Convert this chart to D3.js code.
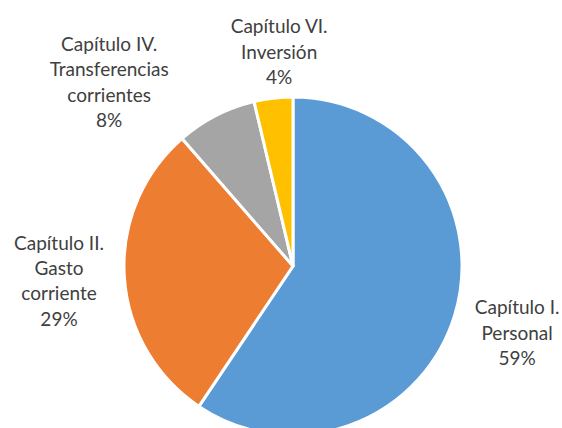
<!DOCTYPE html>
<html><head><meta charset="utf-8">
<script src="https://cdn.jsdelivr.net/npm/d3@7"></script>
<style>html,body{margin:0;padding:0;background:#fff;overflow:hidden}</style>
</head><body>
<svg id="c" width="562" height="428"></svg>
<script>
const categories = ["Capítulo I. Personal", "Capítulo II. Gasto corriente", "Capítulo IV. Transferencias corrientes", "Capítulo VI. Inversión"];
const labelLines = [["Capítulo I.", "Personal"], ["Capítulo II.", "Gasto", "corriente"], ["Capítulo IV.", "Transferencias", "corrientes"], ["Capítulo VI.", "Inversión"]];
const values = [59.4, 29.2, 7.7, 3.7];
const percentLabels = ["59%", "29%", "8%", "4%"];
const colors = ["#5B9BD5", "#ED7D31", "#A5A5A5", "#FFC000"];
// label placement (polar: distance from centre, angle in degrees clockwise from top)
const labelPolar = [[234, 106.7], [234.5, 266.3], [260, 315], [214.5, 356.3]];

const svg = d3.select("#c");
const cx = 293, cy = 266, R = 169;
const g = svg.append("g").attr("transform", `translate(${cx},${cy})`);
const pie = d3.pie().sort(null).value(d => d)(values);
const arc = d3.arc().innerRadius(0).outerRadius(R);
g.selectAll("path").data(pie).join("path")
  .attr("d", arc).attr("fill", (d, i) => colors[i])
  .attr("stroke", "#fff").attr("stroke-width", 3).attr("stroke-linejoin", "miter");

const lh = 25.4;
labelLines.forEach((lines, i) => {
  const all = lines.concat([percentLabels[i]]);
  const [r, a] = labelPolar[i];
  const rad = a * Math.PI / 180;
  const x = r * Math.sin(rad), y = -r * Math.cos(rad);
  const t = g.append("text").attr("text-anchor", "middle")
    .attr("font-family", "Lato, 'Open Sans', sans-serif").attr("font-size", 19)
    .attr("fill", "#404040");
  all.forEach((s, j) => {
    t.append("tspan").attr("x", x)
      .attr("y", y + (j - (all.length - 1) / 2) * lh)
      .attr("dy", "0.35em").text(s);
  });
});
</script>
</body></html>
